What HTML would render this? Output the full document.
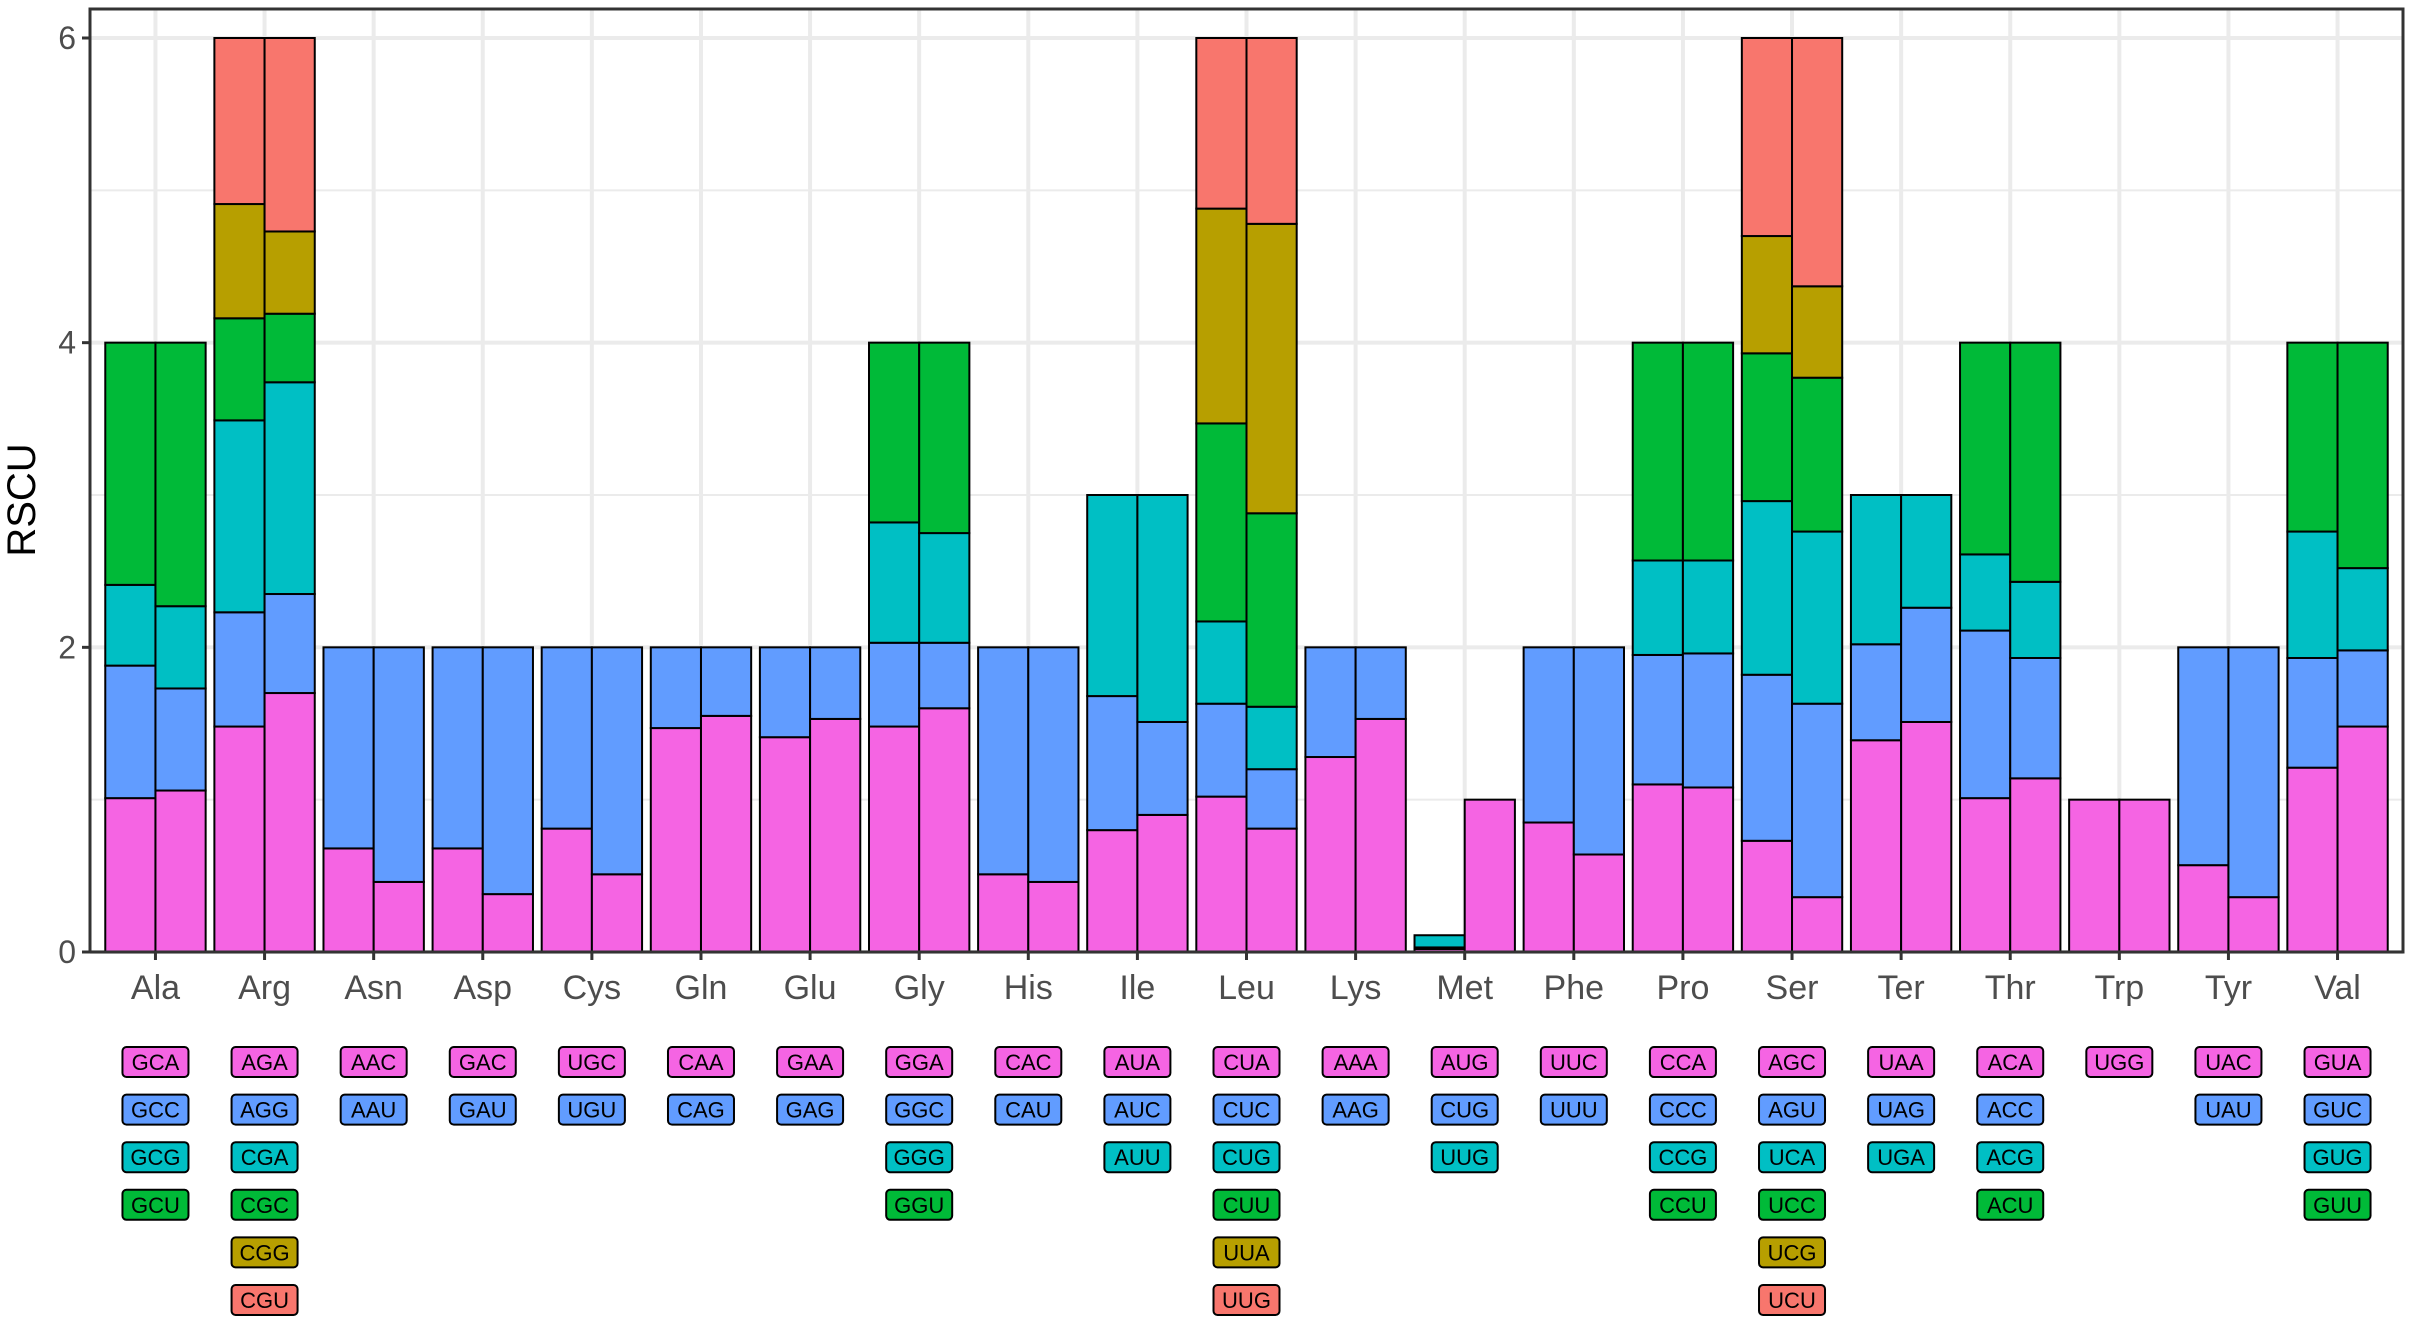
<!DOCTYPE html>
<html><head><meta charset="utf-8"><style>
html,body{margin:0;padding:0;background:#fff;}
svg{display:block;font-family:"Liberation Sans",sans-serif;}
</style></head><body>
<svg id="chart" width="2414" height="1326" viewBox="0 0 2414 1326" xmlns="http://www.w3.org/2000/svg"></svg>
<script>
const categories=["Ala","Arg","Asn","Asp","Cys","Gln","Glu","Gly","His","Ile","Leu","Lys","Met","Phe","Pro","Ser","Ter","Thr","Trp","Tyr","Val"];
const codons=[["GCA","GCC","GCG","GCU"],["AGA","AGG","CGA","CGC","CGG","CGU"],["AAC","AAU"],["GAC","GAU"],["UGC","UGU"],["CAA","CAG"],["GAA","GAG"],["GGA","GGC","GGG","GGU"],["CAC","CAU"],["AUA","AUC","AUU"],["CUA","CUC","CUG","CUU","UUA","UUG"],["AAA","AAG"],["AUG","CUG","UUG"],["UUC","UUU"],["CCA","CCC","CCG","CCU"],["AGC","AGU","UCA","UCC","UCG","UCU"],["UAA","UAG","UGA"],["ACA","ACC","ACG","ACU"],["UGG"],["UAC","UAU"],["GUA","GUC","GUG","GUU"]];
const series1=[[1.01,0.87,0.53,1.59],[1.48,0.75,1.26,0.67,0.75,1.09],[0.68,1.32],[0.68,1.32],[0.81,1.19],[1.47,0.53],[1.41,0.59],[1.48,0.55,0.79,1.18],[0.51,1.49],[0.80,0.88,1.32],[1.02,0.61,0.54,1.30,1.41,1.12],[1.28,0.72],[0.02,0.01,0.08],[0.85,1.15],[1.10,0.85,0.62,1.43],[0.73,1.09,1.14,0.97,0.77,1.30],[1.39,0.63,0.98],[1.01,1.10,0.50,1.39],[1.0],[0.57,1.43],[1.21,0.72,0.83,1.24]];
const series2=[[1.06,0.67,0.54,1.73],[1.70,0.65,1.39,0.45,0.54,1.27],[0.46,1.54],[0.38,1.62],[0.51,1.49],[1.55,0.45],[1.53,0.47],[1.60,0.43,0.72,1.25],[0.46,1.54],[0.90,0.61,1.49],[0.81,0.39,0.41,1.27,1.90,1.22],[1.53,0.47],[1.0,0,0],[0.64,1.36],[1.08,0.88,0.61,1.43],[0.36,1.27,1.13,1.01,0.60,1.63],[1.51,0.75,0.74],[1.14,0.79,0.50,1.57],[1.0],[0.36,1.64],[1.48,0.50,0.54,1.48]];
const yTicks=[0,2,4,6];
const colors=["#F564E3","#619CFF","#00BFC4","#00BA38","#B79F00","#F8766D"];

const svg=document.getElementById('chart');
const NS="http://www.w3.org/2000/svg";
const L=90,R=2403,T=9,B=952;
const step=(R-L)/(categories.length+0.2);
const xs=i=>L+step*(0.6+i);
const ys=v=>B-v*(B-38)/6;
function mk(tag,a,parent){const e=document.createElementNS(NS,tag);for(const k in a)e.setAttribute(k,a[k]);(parent||svg).appendChild(e);return e;}

const grid=mk('g',{});


[1,3,5].forEach(v=>mk('line',{x1:L,x2:R,y1:ys(v),y2:ys(v),stroke:'#EBEBEB','stroke-width':2},grid));
yTicks.forEach(v=>mk('line',{x1:L,x2:R,y1:ys(v),y2:ys(v),stroke:'#EBEBEB','stroke-width':4},grid));
categories.forEach((c,i)=>mk('line',{x1:xs(i),x2:xs(i),y1:T,y2:B,stroke:'#EBEBEB','stroke-width':4},grid));

const bw=step*0.46;
[series1,series2].forEach((ser,s)=>{
  ser.forEach((vals,i)=>{
    const g=mk('g',{});
    
    
    const x0=xs(i)-bw+s*bw;
    let cum=0;
    vals.forEach((v,k)=>{
      if(v<=0)return;
      const r=mk('rect',{x:x0,y:ys(cum+v),width:bw,height:ys(cum)-ys(cum+v),fill:colors[k],stroke:'#000','stroke-width':2},g);
      
      
      cum+=v;
    });
  });
});

const border=mk('rect',{x:L,y:T,width:R-L,height:B-T,fill:'none',stroke:'#333','stroke-width':3});



yTicks.forEach(v=>{
  mk('line',{x1:L-8,x2:L,y1:ys(v),y2:ys(v),stroke:'#333','stroke-width':3});
  const t=mk('text',{x:L-14,y:ys(v)+11,'text-anchor':'end','font-size':32,fill:'#4D4D4D'});
  t.textContent=v;
  
  
});
categories.forEach((c,i)=>{
  mk('line',{x1:xs(i),x2:xs(i),y1:B,y2:B+8,stroke:'#333','stroke-width':3});
  const t=mk('text',{x:xs(i),y:999,'text-anchor':'middle','font-size':34,fill:'#4D4D4D'});
  t.textContent=c;
  
  
  codons[i].forEach((cd,k)=>{
    const cy=1062+k*47.6;
    const g=mk('g',{});
    
    
    mk('rect',{x:xs(i)-33,y:cy-15,width:66,height:30,rx:4,fill:colors[k],stroke:'#000','stroke-width':2},g);
    const tt=mk('text',{x:xs(i),y:cy+8,'text-anchor':'middle','font-size':22,fill:'#000'},g);
    tt.textContent=cd;
  });
});
const yt=mk('text',{x:0,y:0,transform:'translate(35,500) rotate(-90)','text-anchor':'middle','font-size':40,fill:'#000'});
yt.textContent='RSCU';


</script>
</body></html>
